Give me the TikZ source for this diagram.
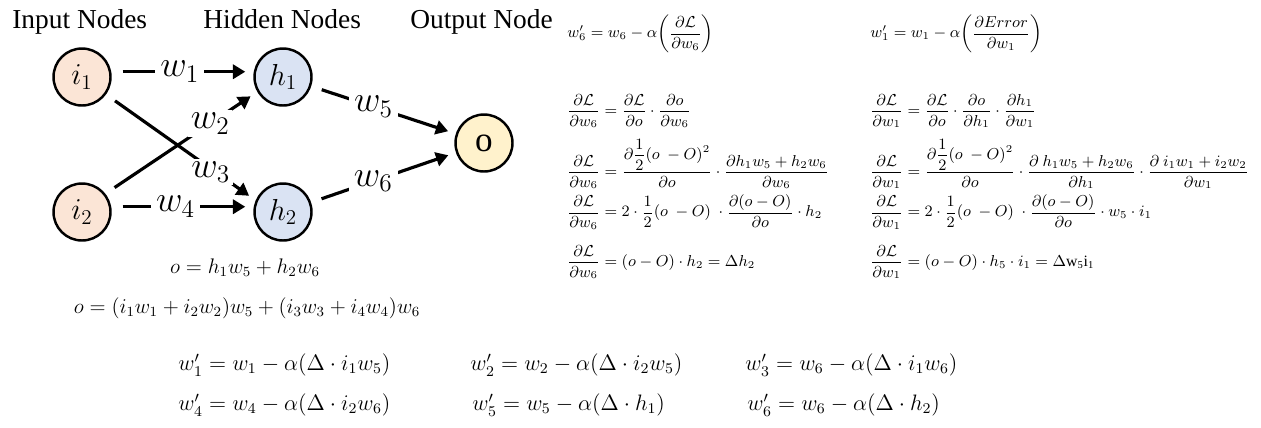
\documentclass[tikz,border=0pt]{standalone}
\usepackage{amsmath}
\usepackage{fontspec}
\setmainfont{Liberation Serif}
\usepackage{tikz}
\usetikzlibrary{arrows.meta, positioning}
\definecolor{inpeach}{RGB}{251,229,214}
\definecolor{hidblue}{RGB}{218,227,243}
\definecolor{outyellow}{RGB}{255,242,204}
\tikzset{
  neuron/.style={circle,draw=black,line width=1.4pt,minimum size=1.14cm,inner sep=0pt,
    font=\fontsize{17.28}{22}\selectfont},
  inneuron/.style={neuron,fill=inpeach},
  hidneuron/.style={neuron,fill=hidblue},
  outneuron/.style={neuron,fill=outyellow,font=\fontsize{20}{24}\selectfont},
  wire/.style={-{Triangle[length=7pt,width=8pt]},line width=1.8pt,
    shorten <=0.22cm,shorten >=0.16cm},
  wlabel/.style={fill=white,inner sep=3pt,font=\fontsize{20.74}{24}\selectfont},
  xlabel/.style={wlabel,inner sep=1.5pt},
  header/.style={anchor=base west,inner sep=0pt,font=\fontsize{15.6}{18}\selectfont},
  eqnet/.style={inner sep=0pt,font=\fontsize{12}{15}\selectfont},
  eqgrad/.style={anchor=west,inner sep=0pt,font=\fontsize{9}{11}\selectfont},
  equpd/.style={anchor=west,inner sep=0pt,font=\fontsize{12}{15}\selectfont,
    scale=1.06,transform shape}
}

\begin{document}
\begin{tikzpicture}[x=0.02cm,y=-0.02cm]
  \useasboundingbox (0,0) rectangle (1261,427);
  \node[header] (hin) at (12,28) {Input Nodes};
  \node[header] (hhid) at (203,28) {Hidden Nodes};
  \node[header] (hout) at (410,28) {Output Node};

  \node[inneuron] (i1) at (82,77) {$i_1$};
  \node[inneuron] (i2) at (82,212) {$i_2$};
  \node[hidneuron] (h1) at (283,77) {$h_1$};
  \node[hidneuron] (h2) at (283,212) {$h_2$};
  \node[outneuron] (o) at (484,143) {o};

  \draw[wire] ([yshift=3pt]i1.east) -- node[wlabel,pos=0.48] (lw1) {$w_1$} ([yshift=3pt]h1.west);
  \draw[wire] (i1.-36) -- node[xlabel,pos=0.70,yshift=-2pt] (lw3) {$w_3$} (h2.157);
  \draw[wire] (i2.38) -- node[xlabel,pos=0.69] (lw2) {$w_2$} (h1.-150);
  \draw[wire] ([yshift=3pt]i2.east) -- node[wlabel,pos=0.45] (lw4) {$w_4$} ([yshift=3pt]h2.west);
  \draw[wire] (h1) -- node[wlabel,pos=0.43] (lw5) {$w_5$} (o);
  \draw[wire] (h2) -- node[wlabel,pos=0.43] (lw6) {$w_6$} (o);

  \node[eqnet] (net1) at (245,268) {$o = h_1w_5 + h_2w_6$};
  \node[eqnet] (net2) at (247,308) {$o = (i_1w_1 + i_2w_2)w_5 + (i_3w_3 + i_4w_4)w_6$};

  \node[eqgrad] (ga0) at (567,34) {$w_6' = w_6 - \alpha\biggl(\dfrac{\partial\mathcal{L}}{\partial w_6}\biggr)$};
  \node[eqgrad] (ga1) at (567,111) {$\dfrac{\partial\mathcal{L}}{\partial w_6} = \dfrac{\partial\mathcal{L}}{\partial o}\cdot\dfrac{\partial o}{\partial w_6}$};
  \node[eqgrad] (ga2) at (567,164) {$\dfrac{\partial\mathcal{L}}{\partial w_6} = \dfrac{\partial\dfrac{1}{2}(o\ -O)^2}{\partial o}\cdot\dfrac{\partial h_1w_5 + h_2w_6}{\partial w_6}$};
  \node[eqgrad] (ga3) at (567,212) {$\dfrac{\partial\mathcal{L}}{\partial w_6} = 2\cdot\dfrac{1}{2}(o\ -O)\ \cdot\dfrac{\partial(o-O)}{\partial o}\cdot h_2$};
  \node[eqgrad] (ga4) at (567,262) {$\dfrac{\partial\mathcal{L}}{\partial w_6} = (o-O)\cdot h_2 = \Delta h_2$};

  \node[eqgrad] (gb0) at (870,34) {$w_1' = w_1 - \alpha\biggl(\dfrac{\partial Error}{\partial w_1}\biggr)$};
  \node[eqgrad] (gb1) at (870,111) {$\dfrac{\partial\mathcal{L}}{\partial w_1} = \dfrac{\partial\mathcal{L}}{\partial o}\cdot\dfrac{\partial o}{\partial h_1}\cdot\dfrac{\partial h_1}{\partial w_1}$};
  \node[eqgrad] (gb2) at (870,164) {$\dfrac{\partial\mathcal{L}}{\partial w_1} = \dfrac{\partial\dfrac{1}{2}(o\ -O)^2}{\partial o}\cdot\dfrac{\partial\ h_1w_5 + h_2w_6}{\partial h_1}\cdot\dfrac{\partial\ i_1w_1 + i_2w_2}{\partial w_1}$};
  \node[eqgrad] (gb3) at (870,212) {$\dfrac{\partial\mathcal{L}}{\partial w_1} = 2\cdot\dfrac{1}{2}(o\ -O)\ \cdot\dfrac{\partial(o-O)}{\partial o}\cdot w_5\cdot i_1$};
  \node[eqgrad] (gb4) at (870,262) {$\dfrac{\partial\mathcal{L}}{\partial w_1} = (o-O)\cdot h_5\cdot i_1 = \Delta\mathrm{w_5i_1}$};

  \node[equpd] (u1) at (178,365) {$w_1' = w_1 - \alpha(\Delta\cdot i_1w_5)$};
  \node[equpd] (u2) at (470,365) {$w_2' = w_2 - \alpha(\Delta\cdot i_2w_5)$};
  \node[equpd] (u3) at (745,365) {$w_3' = w_6 - \alpha(\Delta\cdot i_1w_6)$};
  \node[equpd] (u4) at (178,405) {$w_4' = w_4 - \alpha(\Delta\cdot i_2w_6)$};
  \node[equpd] (u5) at (472,405) {$w_5' = w_5 - \alpha(\Delta\cdot h_1)$};
  \node[equpd] (u6) at (747,405) {$w_6' = w_6 - \alpha(\Delta\cdot h_2)$};
\end{tikzpicture}
\end{document}
